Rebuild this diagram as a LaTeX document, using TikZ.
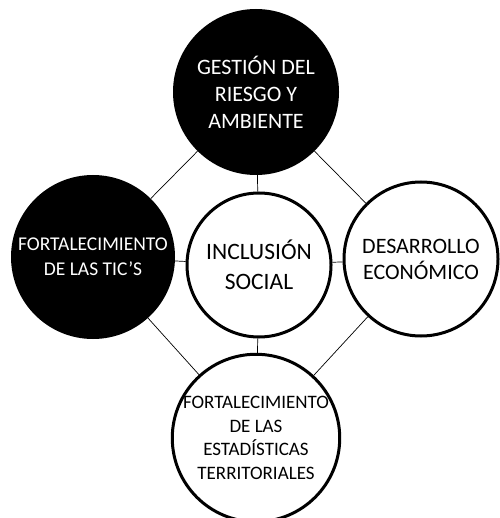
\documentclass[tikz,border=0pt]{standalone}
\usepackage{fontspec}
\setmainfont{Carlito}
\begin{document}
\begin{tikzpicture}[x=1pt,y=-1pt,
     negro/.style={circle,fill=black,text=white,inner sep=0pt,align=center},
     blanco/.style={circle,draw=black,line width=3pt,fill=white,inner sep=0pt,align=center},
     enlace/.style={line width=0.7pt}]
     \useasboundingbox (0,0) rectangle (499,518);
     \node (riesgo) at (256,92) [negro,minimum size=166pt,font=\fontsize{22}{27}\selectfont] {GESTIÓN DEL\\RIESGO Y\\AMBIENTE};
     \node (tics) at (93,257) [negro,minimum size=164pt,font=\fontsize{19.5}{25}\selectfont] {FORTALECIMIENTO\\DE LAS TIC'S};
     \node (social) at (259,265) [blanco,minimum size=144pt,font=\fontsize{23.5}{30}\selectfont] {INCLUSIÓN\\SOCIAL};
     \node (economico) at (421,259) [blanco,minimum size=154pt,font=\fontsize{22}{26}\selectfont] {DESARROLLO\\ECONÓMICO};
     \node (estadisticas) at (256,438) [blanco,minimum size=154pt,font=\fontsize{19}{23.5}\selectfont] {FORTALECIMIENTO\\DE LAS\\ESTADÍSTICAS\\TERRITORIALES};
     \draw[enlace] (riesgo) -- (tics); \draw[enlace] (riesgo) -- (economico);
     \draw[enlace] (tics) -- (estadisticas); \draw[enlace] (economico) -- (estadisticas);
     \draw[enlace] (riesgo) -- (social); \draw[enlace] (tics) -- (social);
     \draw[enlace] (social) -- (economico); \draw[enlace] (social) -- (estadisticas);
\end{tikzpicture}
\end{document}
